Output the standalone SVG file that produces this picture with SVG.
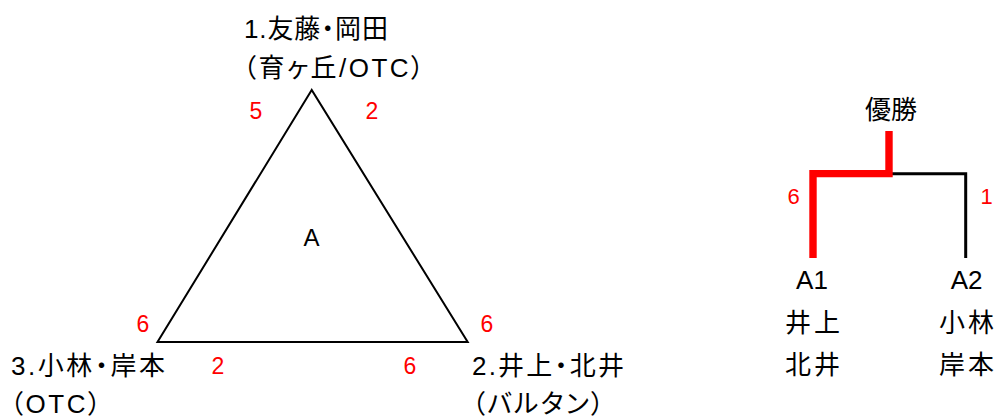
<svg xmlns="http://www.w3.org/2000/svg" width="998" height="419" viewBox="0 0 998 419">
<style>
.t{font-family:"Liberation Sans","Noto Sans CJK JP",sans-serif;font-size:26px;fill:#000;font-feature-settings:"palt" 1;}
.n{font-family:"Liberation Sans Narrow","Liberation Sans",Arial,sans-serif;font-size:23px;fill:#ff0000;text-anchor:middle;}
.c{font-family:"Noto Sans CJK JP",sans-serif;font-size:26px;fill:#000;letter-spacing:3px;}
.l{font-family:"Liberation Sans",Arial,sans-serif;font-size:26px;fill:#000;text-anchor:middle;}
</style>
<rect width="998" height="419" fill="#fff"/>
<g id="triangle-A">
<polygon points="311.7,90 157.5,342 467.7,342" fill="none" stroke="#000" stroke-width="2"/>
<text class="l" x="311.5" y="246" style="font-size:24px">A</text>
</g>
<g id="team-1">
<text class="t" x="244" y="38" textLength="144" lengthAdjust="spacing">1.友藤・岡田</text>
<text class="t" x="243" y="77" textLength="181" lengthAdjust="spacing">（育ヶ丘/OTC）</text>
</g>
<g id="team-2">
<text class="t" x="472" y="375" textLength="152" lengthAdjust="spacing">2.井上・北井</text>
<text class="t" x="472" y="413" textLength="132" lengthAdjust="spacing">（バルタン）</text>
</g>
<g id="team-3">
<text class="t" x="11" y="375" textLength="154" lengthAdjust="spacing">3.小林・岸本</text>
<text class="t" x="10" y="413" textLength="91" lengthAdjust="spacing">（OTC）</text>
</g>
<g id="scores">
<text class="n" x="256" y="119">5</text>
<text class="n" x="372" y="119">2</text>
<text class="n" x="143" y="332">6</text>
<text class="n" x="487" y="332">6</text>
<text class="n" x="218" y="374">2</text>
<text class="n" x="410" y="374">6</text>
</g>
<g id="connectors">
<path d="M889 173.7 H965.7 V258" fill="none" stroke="#000" stroke-width="3"/>
<path d="M813 258 V173.6 H889 V131" fill="none" stroke="#ff0000" stroke-width="7.4" stroke-linejoin="miter"/>
<text class="n" x="793.5" y="204" style="font-size:22px">6</text>
<text class="n" x="986.5" y="204" style="font-size:22px">1</text>
</g>
<g id="winner">
<text class="c" x="865" y="119" style="letter-spacing:0">優勝</text>
</g>
<g id="node-A1">
<text class="l" x="812" y="289">A1</text>
<text class="c" x="785" y="332">井上</text>
<text class="c" x="785" y="374">北井</text>
</g>
<g id="node-A2">
<text class="l" x="966.7" y="289">A2</text>
<text class="c" x="939" y="332">小林</text>
<text class="c" x="939" y="374">岸本</text>
</g>
</svg>
